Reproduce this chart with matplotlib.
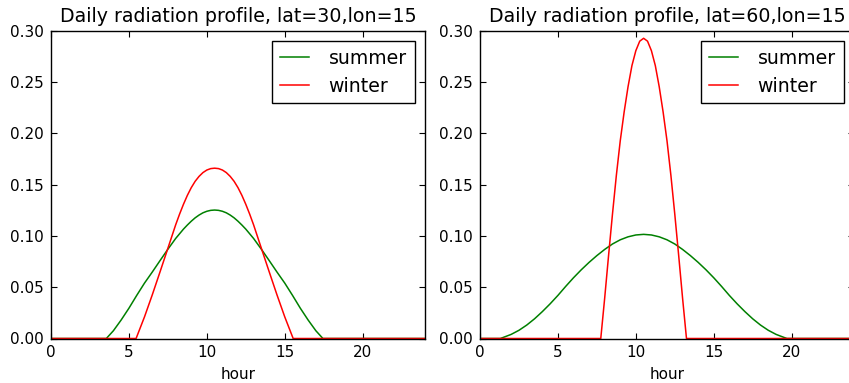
import matplotlib
matplotlib.use("Agg")
import matplotlib.pyplot as plt

# ---- data ----
titles = ["Daily radiation profile, lat=30,lon=15",
          "Daily radiation profile, lat=60,lon=15"]
series_labels = ["summer", "winter"]

lat30_summer_hours = [0, 3.55, 4, 4.5, 5, 5.5, 6, 6.5, 7, 7.5, 8, 8.5, 8.75, 9, 9.25, 9.5, 9.75,
                      10, 10.25, 10.5, 10.75, 11, 11.25, 11.5, 11.75, 12, 12.25, 12.5, 13, 13.5,
                      14, 14.5, 15, 15.5, 16, 16.5, 17, 17.45, 24]
lat30_summer_vals = [0, 0, .0075, .0180, .0295, .0420, .0540, .0648, .0760, .0870, .0975, .1066,
                     .1106, .1143, .1176, .1203, .1225, .1240, .1249, .1252, .1249, .1240, .1225,
                     .1203, .1176, .1143, .1106, .1066, .0975, .0870, .0760, .0648, .0540, .0420,
                     .0295, .0180, .0075, 0, 0]

lat30_winter_hours = [0, 5.46, 6, 6.5, 7, 7.5, 8, 8.25, 8.5, 8.75, 9, 9.25, 9.5, 9.75, 10, 10.25,
                      10.5, 10.75, 11, 11.25, 11.5, 11.75, 12, 12.25, 12.5, 12.75, 13, 13.5, 14,
                      14.5, 15, 15.54, 24]
lat30_winter_vals = [0, 0, .0211, .0426, .0651, .0879, .1108, .1212, .1308, .1395, .1470, .1532,
                     .1580, .1617, .1642, .1656, .1660, .1656, .1642, .1617, .1580, .1532, .1470,
                     .1395, .1308, .1212, .1108, .0879, .0651, .0426, .0211, 0, 0]

lat60_summer_hours = [0, 1.3, 1.5, 2, 2.5, 3, 3.5, 4, 4.5, 5, 5.5, 6, 6.5, 7, 7.5, 8, 8.5, 9,
                      9.5, 10, 10.5, 11, 11.5, 12, 12.5, 13, 13.5, 14, 14.5, 15, 15.5, 16, 16.5,
                      17, 17.5, 18, 18.5, 19, 19.5, 19.7, 24]
lat60_summer_vals = [0, 0, .0011, .0040, .0080, .0131, .0192, .0262, .0338, .0420, .0508, .0592,
                     .0670, .0742, .0808, .0868, .0921, .0962, .0991, .1009, .1015, .1009, .0991,
                     .0962, .0921, .0868, .0808, .0742, .0670, .0592, .0508, .0420, .0338, .0262,
                     .0192, .0131, .0080, .0040, .0011, 0, 0]

lat60_winter_hours = [0, 7.75, 8, 8.25, 8.5, 8.75, 9, 9.25, 9.5, 9.75, 10, 10.25, 10.5, 10.75,
                      11, 11.25, 11.5, 11.75, 12, 12.25, 12.5, 12.75, 13, 13.25, 24]
lat60_winter_vals = [0, 0, .0392, .0808, .1211, .1590, .1927, .2208, .2454, .2660, .2805, .2898,
                     .2926, .2898, .2805, .2660, .2454, .2208, .1927, .1590, .1211, .0808, .0392,
                     0, 0]

x_ticks = [0, 5, 10, 15, 20]
y_ticks = [0.00, 0.05, 0.10, 0.15, 0.20, 0.25, 0.30]
x_label = "hour"

panels = [
    (titles[0], (lat30_summer_hours, lat30_summer_vals), (lat30_winter_hours, lat30_winter_vals)),
    (titles[1], (lat60_summer_hours, lat60_summer_vals), (lat60_winter_hours, lat60_winter_vals)),
]

plt.rcParams['font.family'] = ['DejaVu Sans']

W, H = 849, 383
fig = plt.figure(figsize=(W / 100, H / 100), dpi=100, facecolor='white')

ax_left_px = [51, 480]
ax_w_px = 374
ax_top_px = 30.7
ax_bot_px = 338.5

for i, (title, summer, winter) in enumerate(panels):
    ax = fig.add_axes([ax_left_px[i] / W, (H - ax_bot_px) / H,
                       ax_w_px / W, (ax_bot_px - ax_top_px) / H])
    ax.plot(summer[0], summer[1], color=(0, 0.5, 0), lw=1.1, label=series_labels[0],
            solid_joinstyle='round')
    ax.plot(winter[0], winter[1], color=(1, 0, 0), lw=1.1, label=series_labels[1],
            solid_joinstyle='round')
    ax.set_xlim(0, 24)
    ax.set_ylim(0, 0.3)
    ax.set_xticks(x_ticks)
    ax.set_yticks(y_ticks)
    ax.set_yticklabels([f"{v:.2f}" for v in y_ticks])
    ax.tick_params(direction='in', top=True, right=True, length=4, width=0.8,
                   labelsize=11, colors='black', pad=5)
    for sp in ax.spines.values():
        sp.set_linewidth(1.0)
        sp.set_color('black')
    ax.set_xlabel(x_label, fontsize=11, labelpad=5)
    ax.set_title(title, fontsize=13.7, pad=6)
    leg = ax.legend(loc='upper right', fontsize=13.6, fancybox=False, framealpha=1,
                    edgecolor='black', handlelength=1.5, handletextpad=1.05,
                    borderpad=0.42, labelspacing=0.45, borderaxespad=0.55)
    leg.get_frame().set_linewidth(1.0)

fig.savefig("out.png", dpi=100, facecolor='white')
